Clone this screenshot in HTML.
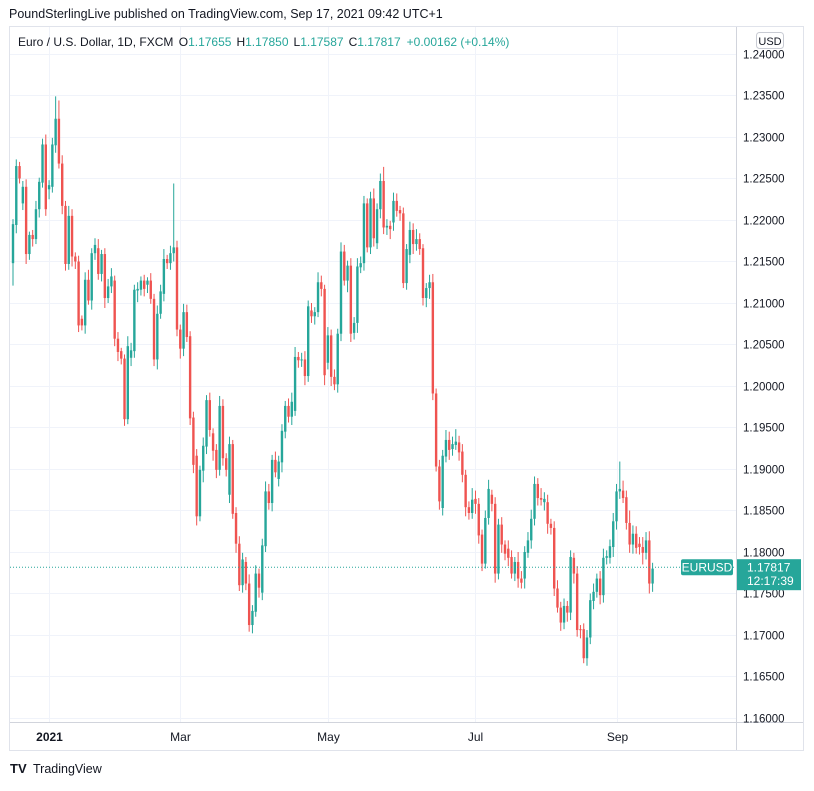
<!DOCTYPE html>
<html><head><meta charset="utf-8"><style>
body{margin:0;background:#fff;width:814px;height:786px;overflow:hidden;font-family:"Liberation Sans",sans-serif;}
svg text{font-family:"Liberation Sans",sans-serif;}
</style></head><body>
<svg id="chart" width="814" height="786" viewBox="0 0 814 786" xmlns="http://www.w3.org/2000/svg">
<text x="9" y="18" font-size="12.5" fill="#131722">PoundSterlingLive published on TradingView.com, Sep 17, 2021 09:42 UTC+1</text>
<rect x="9.5" y="26.5" width="794" height="724" fill="none" stroke="#e0e3eb"/>
<g id="grid"></g>
<g id="candles"></g>
<line x1="10" y1="722.5" x2="803" y2="722.5" stroke="#d1d4dc"/>
<line x1="736.5" y1="27" x2="736.5" y2="750" stroke="#d1d4dc"/>
<g id="yticks"></g>
<g id="xticks"></g>
<text x="18" y="46" font-size="12" fill="#131722">Euro / U.S. Dollar, 1D, FXCM <tspan dx="2">O</tspan><tspan fill="#26a69a">1.17655</tspan><tspan dx="5">H</tspan><tspan fill="#26a69a">1.17850</tspan><tspan dx="5">L</tspan><tspan fill="#26a69a">1.17587</tspan><tspan dx="5">C</tspan><tspan fill="#26a69a">1.17817</tspan><tspan dx="6" fill="#26a69a">+0.00162 (+0.14%)</tspan></text>
<rect x="756.5" y="32.5" width="27" height="16" rx="3" fill="#fff" stroke="#c8cbd3"/>
<text x="770" y="45" font-size="11" text-anchor="middle" fill="#131722">USD</text>
<g id="lastprice"></g>
<g>
<text x="10" y="773" font-size="13" font-weight="bold" fill="#131722">TV</text>
<text x="33" y="773" font-size="12.5" fill="#131722">TradingView</text>
</g>
</svg>
<script>
// OHLC data in pips (price*10000)
const opens=[12148,12194,12265,12220,12240,12159,12182,12177,12213,12245,12291,12237,12240,12290,12322,12268,12217,12147,12205,12156,12150,12081,12073,12128,12103,12160,12166,12135,12159,12106,12120,12127,12057,12042,12033,11960,12034,12042,12115,12116,12127,12122,12127,12105,12032,12087,12111,12153,12148,12160,12167,12068,12045,12089,12060,11962,11916,11843,11898,11927,11983,11943,11923,11899,11976,11913,11869,11930,11847,11810,11760,11788,11762,11712,11728,11774,11751,11807,11873,11859,11911,11888,11908,11945,11976,11963,11970,12035,12031,12032,12012,12091,12084,12089,12125,12117,12028,12061,12011,12002,12063,12162,12127,12145,12064,12076,12143,12148,12220,12167,12226,12172,12213,12247,12191,12193,12197,12223,12212,12208,12124,12158,12188,12171,12177,12166,12106,12118,12125,11991,11903,11853,11915,11935,11924,11929,11932,11921,11893,11854,11847,11864,11858,11821,11786,11841,11869,11858,11774,11833,11809,11804,11794,11774,11788,11768,11768,11799,11814,11840,11882,11865,11860,11860,11834,11829,11756,11733,11715,11735,11727,11793,11774,11707,11707,11672,11697,11741,11752,11768,11748,11793,11793,11806,11837,11873,11874,11866,11835,11809,11822,11810,11806,11799,11814,11762];
const closes=[12195,12265,12250,12240,12159,12182,12177,12213,12246,12291,12213,12242,12291,12322,12268,12217,12147,12205,12156,12150,12073,12073,12128,12103,12160,12170,12135,12159,12106,12120,12132,12057,12041,12033,11960,12048,12043,12116,12117,12127,12117,12127,12105,12032,12087,12114,12153,12148,12160,12167,12068,12045,12089,12059,11961,11905,11843,11899,11928,11983,11947,11922,11899,11976,11913,11899,11930,11846,11810,11760,11791,11762,11712,11729,11774,11757,11808,11873,11859,11911,11896,11909,11946,11976,11963,11981,12035,12031,12032,12012,12096,12084,12089,12125,12117,12013,12061,12011,12002,12063,12162,12127,12145,12063,12076,12144,12148,12220,12167,12226,12178,12213,12247,12191,12193,12189,12223,12211,12208,12124,12165,12188,12171,12177,12165,12106,12118,12125,11991,11903,11861,11916,11935,11923,11930,11933,11920,11893,11854,11847,11863,11858,11820,11786,11841,11876,11858,11774,11833,11809,11798,11793,11774,11788,11768,11763,11800,11814,11840,11882,11865,11863,11864,11834,11829,11756,11733,11715,11735,11727,11794,11774,11706,11706,11672,11697,11742,11752,11768,11748,11793,11795,11807,11837,11873,11876,11865,11835,11809,11822,11805,11806,11799,11814,11762,11780];
const wickUp=[6,8,5,7,9,4,6,10,5,7,12,6,8,27,22,10,6,12,8,5,7,4,9,12,6,8,11,5,7,9,10,6,8,4,5,12,9,6,8,5,7,4,9,6,10,8,12,5,9,77,8,6,10,9,6,7,8,5,10,6,9,6,7,12,8,6,9,5,7,9,8,6,11,7,10,6,8,12,9,6,10,7,8,6,9,11,12,6,8,10,7,9,6,12,8,5,10,7,9,6,11,8,6,9,7,10,8,9,6,8,12,7,9,17,8,6,10,9,5,7,6,10,8,12,7,5,6,9,10,6,8,7,12,10,9,15,8,9,6,7,14,10,7,6,9,11,6,8,7,9,5,10,8,6,12,9,7,10,11,9,7,12,8,9,6,8,10,7,9,6,8,6,9,5,7,9,8,10,6,9,11,7,8,10,9,33,12,8,15,10,9,8,12,10,11,7,5];
const wickDn=[27,10,6,8,12,7,9,6,10,6,8,12,7,9,6,10,8,7,12,9,8,6,10,5,11,8,7,9,12,6,8,9,11,7,8,6,10,8,14,7,9,10,6,8,12,6,9,7,8,10,8,12,9,6,8,10,11,6,14,9,8,12,10,7,9,8,10,6,11,7,9,8,8,10,6,12,9,7,8,10,6,9,12,8,7,10,6,9,8,11,7,8,10,6,9,12,8,11,7,10,9,6,14,10,8,12,7,9,6,8,10,7,11,8,9,12,10,7,9,6,8,10,12,8,7,9,11,13,8,6,10,9,7,12,8,6,10,9,11,8,7,12,10,9,6,8,9,11,7,10,8,10,6,9,11,7,12,6,10,8,9,7,10,12,8,9,6,10,8,11,9,12,8,10,6,9,8,10,7,11,9,8,7,12,10,9,6,8,10,11,7,9,14,8,12,10];
const priceTicks=[1.24,1.235,1.23,1.225,1.22,1.215,1.21,1.205,1.2,1.195,1.19,1.185,1.18,1.175,1.17,1.165,1.16];
const timeLabels=["2021","Mar","May","Jul","Sep"];
const timeIdx=[11,51,96,141,184];
const lastPrice=1.17817;

const NS="http://www.w3.org/2000/svg";
function yS(p){return 54+(1.24-p)*8300;}
function xS(i){return 13+i*3.28;}
function mk(tag,attrs,parent){const e=document.createElementNS(NS,tag);for(const k in attrs)e.setAttribute(k,attrs[k]);parent.appendChild(e);return e;}
const grid=document.getElementById('grid'),cg=document.getElementById('candles'),yt=document.getElementById('yticks'),xt=document.getElementById('xticks');
priceTicks.forEach(p=>{
  const y=Math.round(yS(p))+0.5;
  const l=mk('line',{x1:10,x2:736,y1:y,y2:y,stroke:'#f0f3fa'},grid);
  
  
  const t=mk('text',{x:743,y:y+4,'font-size':11.5,fill:'#131722'},yt);
  t.textContent=p.toFixed(5);
  
  
});
timeLabels.forEach((s,k)=>{
  const x=Math.round(xS(timeIdx[k]))+0.5;
  const l=mk('line',{x1:x,x2:x,y1:27,y2:722,stroke:'#f0f3fa'},grid);
  
  
  const t=mk('text',{x:x,y:741,'font-size':12,'text-anchor':'middle',fill:'#131722','font-weight':k===0?'bold':'normal'},xt);
  t.textContent=s;
  
  
});
for(let i=0;i<closes.length;i++){
  const o=opens[i]/10000,c=closes[i]/10000;
  const hi=Math.max(o,c)+wickUp[i]/10000,lo=Math.min(o,c)-wickDn[i]/10000;
  const col=c>=o?'#26a69a':'#ef5350';
  const x=xS(i);
  const w=mk('line',{x1:x,x2:x,y1:yS(hi),y2:yS(lo),stroke:col,'stroke-width':1},cg);
  
  
  const top=yS(Math.max(o,c)),bot=yS(Math.min(o,c));
  const b=mk('rect',{x:x-1.2,y:top,width:2.4,height:Math.max(1,bot-top),fill:col},cg);
  
  
}
const lp=document.getElementById('lastprice');
const ly=yS(lastPrice);
const dl=mk('line',{x1:10,x2:736,y1:ly,y2:ly,stroke:'#26a69a','stroke-dasharray':'1 2'},lp);


const sb=mk('rect',{x:681,y:ly-8,width:52,height:16,rx:2,fill:'#26a69a'},lp);


const st=mk('text',{x:707,y:ly+4.5,'font-size':12,fill:'#fff','text-anchor':'middle'},lp);
st.textContent='EURUSD';


const pb=mk('rect',{x:737,y:ly-8,width:64,height:31,fill:'#26a69a'},lp);


const pt=mk('text',{x:747,y:ly+4.5,'font-size':12,fill:'#fff'},lp);
pt.textContent=lastPrice.toFixed(5);


const ct=mk('text',{x:747,y:ly+18,'font-size':12,fill:'#fff'},lp);
ct.textContent='12:17:39';


</script>
</body></html>
